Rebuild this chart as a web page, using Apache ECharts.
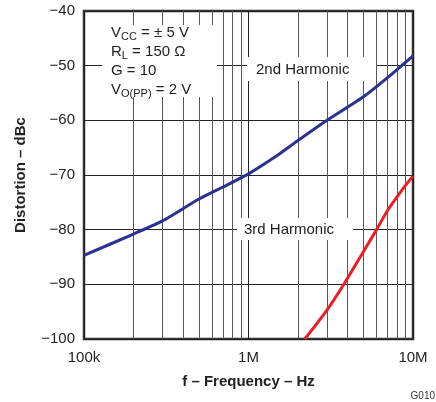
<!DOCTYPE html>
<html>
<head>
<meta charset="utf-8">
<script src="https://cdn.jsdelivr.net/npm/echarts@6/dist/echarts.min.js"></script>
<style>html,body{margin:0;padding:0;background:#fff;}#c{width:436px;height:402px;}</style>
</head>
<body>
<div id="c"></div>
<script>
// Data (frequency in Hz, distortion in dBc)
const secondFreq = [1e5, 2e5, 3e5, 5e5, 7e5, 1e6, 1.5e6, 2e6, 3e6, 5e6, 7e6, 1e7];
const secondVals = [-84.7, -80.8, -78.4, -74.4, -72.2, -69.8, -66.4, -63.7, -60.0, -55.7, -52.2, -48.2];
const thirdFreq = [2.2e6, 3e6, 3.85e6, 5e6, 6e6, 7e6, 8e6, 9e6, 1e7];
const thirdVals = [-100, -94.7, -89.7, -84, -80, -76.5, -74.0, -71.9, -70.2];
const minorGrid = [2e5, 3e5, 4e5, 5e5, 6e5, 7e5, 8e5, 9e5, 2e6, 3e6, 4e6, 5e6, 6e6, 7e6, 8e6, 9e6];
const xTickLabels = {100000: '100k', 1000000: '1M', 10000000: '10M'};
const yTicks = [-100, -90, -80, -70, -60, -50, -40];

const FONT = '"Liberation Sans", Arial, Helvetica, sans-serif';
const chart = echarts.init(document.getElementById('c'), null, {renderer: 'canvas'});

const zip = (xs, ys) => xs.map((x, i) => [x, ys[i]]);

chart.setOption({
  animation: false,
  backgroundColor: '#fff',
  grid: {left: 84, top: 11, right: 23, bottom: 63, show: true, borderColor: '#333', borderWidth: 2.5, backgroundColor: 'transparent'},
  xAxis: {
    type: 'log', logBase: 10, min: 1e5, max: 1e7,
    axisLine: {show: false}, axisTick: {show: false},
    axisLabel: {color: '#222', fontFamily: FONT, fontSize: 15, margin: 11,
      formatter: v => xTickLabels[Math.round(v)] || ''},
    splitLine: {show: true, lineStyle: {color: '#222', width: 1}},
    name: 'f – Frequency – Hz', nameLocation: 'middle', nameGap: 35,
    nameTextStyle: {color: '#222', fontFamily: FONT, fontSize: 15, fontWeight: 'bold'}
  },
  yAxis: {
    type: 'value', min: yTicks[0], max: yTicks[yTicks.length - 1], interval: 10,
    axisLine: {show: false}, axisTick: {show: false},
    axisLabel: {color: '#222', fontFamily: FONT, fontSize: 15, margin: 9,
      formatter: v => String(v).replace('-', '−')},
    splitLine: {show: true, lineStyle: {color: '#222', width: 1}},
    name: 'Distortion – dBc', nameLocation: 'middle', nameGap: 56,
    nameTextStyle: {color: '#222', fontFamily: FONT, fontSize: 15, fontWeight: 'bold'}
  },
  graphic: [
    {type: 'rect', z: 50, shape: {x: 102, y: 25, width: 115, height: 72}, style: {fill: '#fff'}},
    {type: 'rect', z: 50, shape: {x: 247, y: 57, width: 129, height: 24}, style: {fill: '#fff'}},
    {type: 'rect', z: 50, shape: {x: 237, y: 218, width: 116, height: 22}, style: {fill: '#fff'}},
    {type: 'text', z: 51, left: 111, top: 25, style: {
      text: '{m|V}{s|CC}{m| = ± 5 V}\n{m|R}{s|L}{m| = 150 Ω}\n{m|G = 10}\n{m|V}{s|O(PP)}{m| = 2 V}',
      rich: {
        m: {fontFamily: FONT, fontSize: 15, fill: '#222', color: '#222', lineHeight: 19},
        s: {fontFamily: FONT, fontSize: 11, fill: '#222', color: '#222', lineHeight: 13, verticalAlign: 'bottom'}
      }}},
    {type: 'text', z: 51, left: 256, top: 62, style: {
      text: '2nd Harmonic', font: '15px ' + FONT, fill: '#222'}},
    {type: 'text', z: 51, left: 244, top: 222, style: {
      text: '3rd Harmonic', font: '15px ' + FONT, fill: '#222'}},
    {type: 'text', z: 51, right: 1, top: 391, style: {
      text: 'G010', font: '10px ' + FONT, fill: '#333'}}
  ],
  series: [
    {type: 'line', z: 1, data: [], silent: true,
      markLine: {z: 1, silent: true, symbol: 'none', label: {show: false},
        lineStyle: {color: '#555', width: 1, type: 'solid'},
        data: minorGrid.map(v => ({xAxis: v}))}},
    {name: '2nd Harmonic', type: 'line', z: 60, data: zip(secondFreq, secondVals),
      showSymbol: false, smooth: 0.2, lineStyle: {color: '#2b3191', width: 3}},
    {name: '3rd Harmonic', type: 'line', z: 60, data: zip(thirdFreq, thirdVals),
      showSymbol: false, smooth: 0.2, lineStyle: {color: '#ee1c25', width: 3}}
  ]
});
</script>
</body>
</html>
